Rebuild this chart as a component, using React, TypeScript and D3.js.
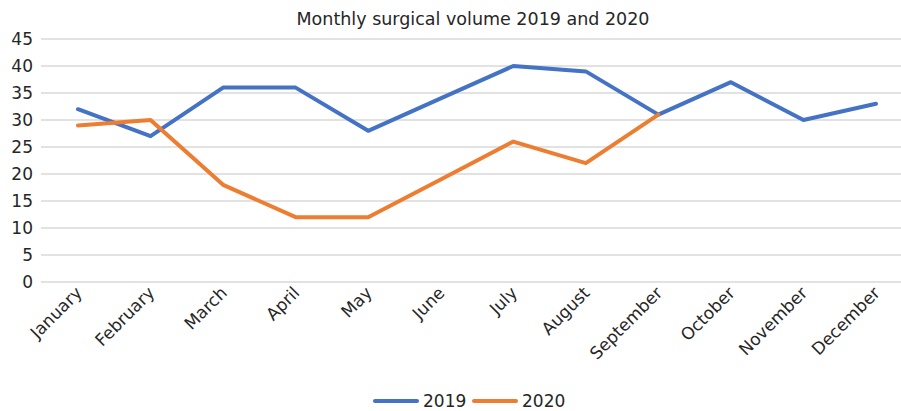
import { useEffect, useRef } from "react";
import * as d3 from "d3";

const months = [
  "January", "February", "March", "April", "May", "June",
  "July", "August", "September", "October", "November", "December",
];
const values2019 = [32, 27, 36, 36, 28, 34, 40, 39, 31, 37, 30, 33];
// 2020 stops at September
const values2020 = [29, 30, 18, 12, 12, 19, 26, 22, 31];
const yTicks = [0, 5, 10, 15, 20, 25, 30, 35, 40, 45];

const series = [
  { name: "2019", values: values2019, color: "#4472C4" },
  { name: "2020", values: values2020, color: "#ED7D31" },
];

const FONT = "'DejaVu Sans', sans-serif";

export default function App() {
  const svgRef = useRef<SVGSVGElement | null>(null);

  useEffect(() => {
    const width = 901;
    const height = 411;
    const svg = d3.select(svgRef.current);
    svg.selectAll("*").remove();
    svg.attr("width", width).attr("height", height);

    const x = d3.scalePoint<string>().domain(months).range([78, 876]);
    const y = d3.scaleLinear().domain([0, 45]).range([282, 39]);

    svg.append("rect").attr("width", width).attr("height", height).attr("fill", "#fff");

    svg.append("text")
      .attr("x", 473)
      .attr("y", 25)
      .attr("text-anchor", "middle")
      .attr("font-family", FONT)
      .attr("font-size", 17.5)
      .attr("fill", "#262626")
      .text("Monthly surgical volume 2019 and 2020");

    // gridlines
    svg.append("g")
      .selectAll("line")
      .data(yTicks)
      .join("line")
      .attr("x1", 41)
      .attr("x2", width)
      .attr("y1", (d) => y(d))
      .attr("y2", (d) => y(d))
      .attr("stroke", "#d9d9d9")
      .attr("stroke-width", 1.5);

    svg.append("g")
      .selectAll("text")
      .data(yTicks)
      .join("text")
      .attr("x", 33)
      .attr("y", (d) => y(d))
      .attr("dy", "0.35em")
      .attr("text-anchor", "end")
      .attr("font-family", FONT)
      .attr("font-size", 17)
      .attr("fill", "#262626")
      .text((d) => d);

    svg.append("g")
      .selectAll("text")
      .data(months)
      .join("text")
      .attr("transform", (d) => `translate(${(x(d) ?? 0) + 5},${294}) rotate(-45)`)
      .attr("text-anchor", "end")
      .attr("font-family", FONT)
      .attr("font-size", 17)
      .attr("fill", "#262626")
      .text((d) => d);

    const line = d3.line<number>()
      .x((_, i) => x(months[i]) ?? 0)
      .y((d) => y(d));

    svg.append("g")
      .selectAll("path")
      .data(series)
      .join("path")
      .attr("d", (s) => line(s.values))
      .attr("fill", "none")
      .attr("stroke", (s) => s.color)
      .attr("stroke-width", 4)
      .attr("stroke-linejoin", "round")
      .attr("stroke-linecap", "round");

    // legend
    const legend = svg.append("g")
      .selectAll("g")
      .data(series)
      .join("g")
      .attr("transform", (_, i) => `translate(${375 + i * 99},401)`);
    legend.append("line")
      .attr("x1", 0)
      .attr("x2", 42)
      .attr("stroke", (s) => s.color)
      .attr("stroke-width", 4)
      .attr("stroke-linecap", "round");
    legend.append("text")
      .attr("x", 48)
      .attr("dy", "0.35em")
      .attr("font-family", FONT)
      .attr("font-size", 17)
      .attr("fill", "#262626")
      .text((s) => s.name);
  }, []);

  return <svg ref={svgRef} style={{ position: "absolute", left: 0, top: 0 }} />;
}
